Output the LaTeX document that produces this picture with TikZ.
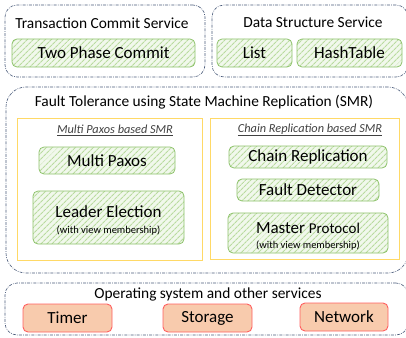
\documentclass[tikz,border=0pt]{standalone}
\usepackage{fontspec}
\setmainfont{Carlito}
\usetikzlibrary{positioning,patterns.meta}
\definecolor{layerblue}{HTML}{4A5B7A}
\definecolor{hatchgreen}{HTML}{B9DB9F}
\definecolor{palegreen}{HTML}{F1F8EC}
\definecolor{boxgreen}{HTML}{8DC26A}
\definecolor{smryellow}{HTML}{FFD966}
\definecolor{osfill}{HTML}{F8CBAD}
\definecolor{osred}{HTML}{FF5F5F}
\definecolor{subgray}{HTML}{404040}

\tikzset{
	layer/.style={draw=layerblue,line width=0.6pt,rounded corners=12pt,
		dash pattern=on 3pt off 1.2pt on 0.8pt off 1.2pt,inner sep=0pt},
	smrbox/.style={draw=smryellow,line width=0.9pt,inner sep=0pt},
	module/.style={draw=boxgreen,line width=0.8pt,rounded corners=5pt,inner sep=0pt,
		preaction={fill=palegreen},
		pattern={Lines[angle=45,distance=4pt,line width=1.2pt]},pattern color=hatchgreen,
		font=\fontsize{17}{19}\selectfont,align=center},
	osmodule/.style={draw=osred,fill=osfill,line width=0.9pt,rounded corners=5pt,
		inner sep=0pt,font=\fontsize{17}{19}\selectfont},
	layertitle/.style={font=\fontsize{15.4}{17}\selectfont,inner sep=0pt},
	smrtitle/.style={font=\fontsize{12.3}{14}\selectfont\itshape,text=subgray,inner sep=0pt},
}
\newcommand{\viewnote}{{\fontsize{10.5}{11}\selectfont (with view membership)}}

\begin{document}
\begin{tikzpicture}[x=1pt,y=-1pt]
	\clip (0,0) rectangle (406,337);
	\useasboundingbox (0,0) rectangle (406,337);
	%% the service layers
	\node[layer,minimum width=200pt,minimum height=72pt] (tcs) at (105,41) {};
	\node[layer,minimum width=196pt,minimum height=72pt] (dss) at (310,41) {};
	\node[layer,rounded corners=20pt,minimum width=402pt,minimum height=186pt] (smr) at (207,180) {};
	\node[layer,minimum width=403pt,minimum height=52pt] (os) at (206.5,309) {};
	\node[layertitle] (tcstitle) at (102,23) {Transaction Commit Service};
	\node[layertitle] (dsstitle) at (313,22) {Data Structure Service};
	\node[layertitle] (smrtitle) at (204,102) {Fault Tolerance using State Machine Replication (SMR)};
	\node[layertitle] (ostitle) at (208,294) {Operating system and other services};
	%% the two SMR flavours
	\node[smrbox,minimum width=185pt,minimum height=142pt] (mpsmr) at (109.5,189) {};
	\node[smrbox,minimum width=189pt,minimum height=141pt] (crsmr) at (304.5,188.5) {};
	\node[smrtitle] (mptitle) at (115,130) {\underline{Multi Paxos based SMR}};
	\node[smrtitle] (crtitle) at (310,130) {\underline{Chain Replication based SMR}};
	%% the modules
	\node[module,minimum width=183pt,minimum height=28pt] (twopc) at (103.5,53) {Two Phase Commit};
	\node[module,minimum width=75pt,minimum height=28pt] (list) at (254.5,53) {List};
	\node[module,minimum width=105pt,minimum height=28pt] (hashtable) at (349.5,53) {HashTable};
	\node[module,minimum width=136pt,minimum height=27pt] (multipaxos) at (107,160.5) {Multi Paxos};
	\node[module,minimum width=151pt,minimum height=53pt] (leader) at (108.5,217.5) {\rule{0pt}{18pt}Leader Election\\[-3pt]\viewnote};
	\node[module,minimum width=158pt,minimum height=22pt] (chainrep) at (308,157) {Chain Replication};
	\node[module,minimum width=142pt,minimum height=22pt] (faultdet) at (308,190) {Fault Detector};
	\node[module,minimum width=160pt,minimum height=40pt] (master) at (308,233) {\rule{0pt}{17pt}Master {\fontsize{15}{16}\selectfont Protocol}\\[-4pt]\viewnote};
	\node[osmodule,minimum width=89pt,minimum height=28pt] (timer) at (67.5,318) {Timer};
	\node[osmodule,minimum width=89pt,minimum height=28pt] (storage) at (207.5,318) {Storage};
	\node[osmodule,minimum width=88pt,minimum height=28pt] (network) at (344,317) {Network};
\end{tikzpicture}
\end{document}
